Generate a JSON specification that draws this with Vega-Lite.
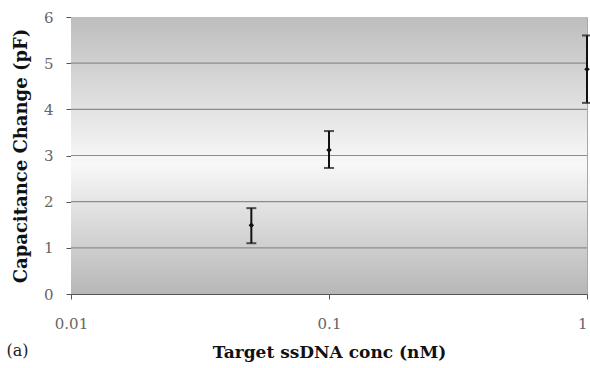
{
  "$schema": "https://vega.github.io/schema/vega-lite/v6.json",
  "autosize": "none",
  "width": 516,
  "height": 277,
  "padding": {"left": 71, "top": 17, "right": 3, "bottom": 74},
  "background": "white",
  "config": {
    "view": {"stroke": "#a8a8a8", "strokeWidth": 1},
    "font": "DejaVu Serif",
    "axis": {"labelFont": "DejaVu Serif", "titleFont": "DejaVu Serif"}
  },
  "title": {
    "text": "(a)",
    "orient": "bottom",
    "anchor": "start",
    "frame": "bounds",
    "font": "DejaVu Serif",
    "fontSize": 16,
    "fontWeight": "normal",
    "color": "#222",
    "dx": -6,
    "dy": -21
  },
  "datasets": {
    "bg": [{"x0": 0.01, "x1": 1, "y0": 0, "y1": 6}],
    "pts": [
      {"conc": 0.05, "cap": 1.49, "lo": 1.1, "hi": 1.86},
      {"conc": 0.1, "cap": 3.12, "lo": 2.73, "hi": 3.53},
      {"conc": 1, "cap": 4.87, "lo": 4.14, "hi": 5.6}
    ]
  },
  "layer": [
    {
      "data": {"name": "bg"},
      "mark": {
        "type": "rect",
        "fill": {
          "gradient": "linear",
          "x1": 0, "y1": 0, "x2": 0, "y2": 1,
          "stops": [
            {"offset": 0, "color": "#bdbdbd"},
            {"offset": 0.53, "color": "#f8f8f8"},
            {"offset": 1, "color": "#b7b7b7"}
          ]
        }
      },
      "encoding": {
        "x": {
          "field": "x0", "type": "quantitative",
          "scale": {"type": "log", "domain": [0.01, 1]},
          "axis": {
            "values": [0.01, 0.1, 1],
            "format": "~g",
            "title": "Target ssDNA conc (nM)",
            "titleFontSize": 17,
            "titleFontWeight": "bold",
            "titleColor": "#111",
            "titlePadding": 13,
            "labelFontSize": 15,
            "labelColor": "#666",
            "labelPadding": 17,
            "labelAlign": {"expr": "datum.value == 1 ? 'right' : 'center'"},
            "tickSize": 5,
            "tickColor": "#555",
            "domainColor": "#555",
            "grid": false,
            "labelFlush": false
          }
        },
        "x2": {"field": "x1"},
        "y": {
          "field": "y0", "type": "quantitative",
          "scale": {"domain": [0, 6], "nice": false},
          "axis": {
            "values": [0, 1, 2, 3, 4, 5, 6],
            "title": "Capacitance Change (pF)",
            "titleFontSize": 18,
            "titleFontWeight": "bold",
            "titleColor": "#111",
            "titlePadding": 13,
            "labelFontSize": 15,
            "labelColor": "#666",
            "labelPadding": 13,
            "tickSize": 5,
            "tickColor": "#555",
            "domainColor": "#555",
            "grid": false
          }
        },
        "y2": {"field": "y1"}
      }
    },
    {
      "data": {"values": [{"g": 1}, {"g": 2}, {"g": 3}, {"g": 4}, {"g": 5}]},
      "mark": {"type": "rule", "color": "#8c8c8c", "strokeWidth": 1.2},
      "encoding": {"y": {"field": "g", "type": "quantitative"}}
    },
    {
      "data": {"name": "pts"},
      "mark": {"type": "rule", "color": "#111", "strokeWidth": 2},
      "encoding": {
        "x": {"field": "conc", "type": "quantitative"},
        "y": {"field": "lo", "type": "quantitative"},
        "y2": {"field": "hi"}
      }
    },
    {
      "data": {"name": "pts"},
      "mark": {"type": "tick", "color": "#111", "size": 10, "thickness": 2, "orient": "horizontal"},
      "encoding": {
        "x": {"field": "conc", "type": "quantitative"},
        "y": {"field": "lo", "type": "quantitative"}
      }
    },
    {
      "data": {"name": "pts"},
      "mark": {"type": "tick", "color": "#111", "size": 10, "thickness": 2, "orient": "horizontal"},
      "encoding": {
        "x": {"field": "conc", "type": "quantitative"},
        "y": {"field": "hi", "type": "quantitative"}
      }
    },
    {
      "data": {"name": "pts"},
      "mark": {"type": "point", "shape": "diamond", "filled": true, "color": "#111", "size": 30, "opacity": 1},
      "encoding": {
        "x": {"field": "conc", "type": "quantitative"},
        "y": {"field": "cap", "type": "quantitative"}
      }
    }
  ]
}
